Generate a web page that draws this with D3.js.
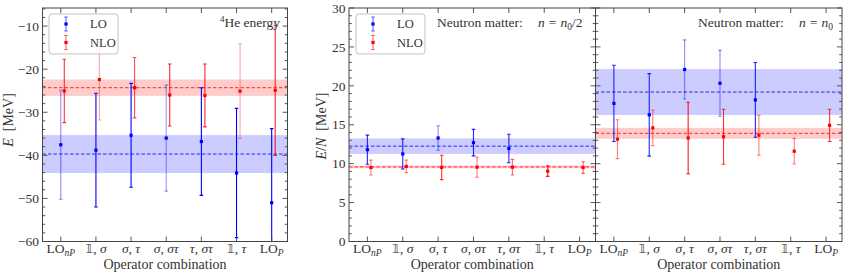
<!DOCTYPE html>
<html>
<head>
<meta charset="utf-8">
<script src="https://cdn.jsdelivr.net/npm/d3@7"></script>
<style>
  html, body { margin: 0; padding: 0; background: #fff; }
  svg { display: block; }
</style>
</head>
<body>
<svg id="chart" width="851" height="275"></svg>
<script>
// ---------- data ----------
const categories = ["LOnP", "1s", "st", "sst", "tst", "1t", "LOP"];
const tickLabels = [
  [["LO", ""], ["nP", "sub"]],
  [["𝟙", "bb"], [", ", ""], ["σ", "i"]],
  [["σ", "i"], [", ", ""], ["τ", "i"]],
  [["σ", "i"], [", ", ""], ["στ", "i"]],
  [["τ", "i"], [", ", ""], ["στ", "i"]],
  [["𝟙", "bb"], [", ", ""], ["τ", "i"]],
  [["LO", ""], ["P", "sub"]]
];

// 4He energy (MeV)
const heLO      = [-37.55, -38.8, -35.35, -36.0, -36.8, -44.1, -51.0];
const heLOErr   = [12.65, 13.2, 12.05, 12.3, 12.5, 15.0, 17.2];
const heNLO     = [-25.05, -22.4, -24.3, -26.0, -26.1, -25.1, -24.9];
const heNLOErr  = [7.35, 9.4, 7.0, 7.2, 7.3, 11.0, 15.1];
const heLOBand  = [-39.7, 4.4];
const heNLOBand = [-24.3, 1.9];

// Neutron matter n = n0/2 (MeV)
const nHalfLO      = [11.8, 11.25, 13.3, 12.7, 11.95, null, null];
const nHalfLOErr   = [1.87, 1.93, 1.58, 1.7, 1.83, null, null];
const nHalfNLO     = [9.5, 9.65, 9.52, 9.55, 9.55, 9.04, 9.5];
const nHalfNLOErr  = [0.95, 0.8, 1.57, 1.3, 1.0, 0.67, 0.75];
const nHalfLOBand  = [12.25, 1.0];
const nHalfNLOBand = [9.58, 0.18];

// Neutron matter n = n0 (MeV)
const nFullLO      = [17.74, 16.27, 22.1, 20.33, 18.19, null, null];
const nFullLOErr   = [4.9, 5.3, 3.8, 4.23, 4.8, null, null];
const nFullNLO     = [13.15, 14.6, 13.3, 13.46, 13.66, 11.6, 14.92];
const nFullNLOErr  = [2.5, 2.3, 4.6, 3.53, 2.57, 1.65, 2.08];
const nFullLOBand  = [19.2, 2.95];
const nFullNLOBand = [13.9, 0.7];

// error-bar weights (shown as bar opacity)
const heLOWeight     = [0.45, 1, 1, 0.4, 1, 1, 1];
const heNLOWeight    = [0.8, 0.35, 0.7, 0.85, 0.85, 0.35, 0.85];
const nHalfLOWeight  = [0.85, 0.85, 0.45, 0.85, 0.85, null, null];
const nHalfNLOWeight = [0.5, 0.5, 0.8, 0.5, 0.6, 0.9, 0.6];
const nFullLOWeight  = [0.85, 0.85, 0.45, 0.45, 0.85, null, null];
const nFullNLOWeight = [0.5, 0.5, 0.9, 0.8, 0.5, 0.5, 0.8];

const yTicksHe = [-60, -50, -40, -30, -20, -10];
const yTicksNM = [0, 5, 10, 15, 20, 25, 30];

// ---------- drawing ----------
const SERIF = "'Liberation Serif', 'DejaVu Serif', serif";
const svg = d3.select("#chart").attr("font-family", SERIF);
const BLUE = "#0000ff", RED = "#ff0000";
const TXT = "#333";
const plotTop = 8, plotBottom = 241.5;

function panel(opts) {
  const g = svg.append("g");
  const x = d3.scaleLinear().domain([-0.52, 6.45]).range([opts.x0, opts.x1]);
  const y = d3.scaleLinear().domain(opts.yDomain).range([plotBottom, plotTop]);
  const clipId = "clip" + opts.id;
  svg.append("clipPath").attr("id", clipId).append("rect")
    .attr("x", opts.x0).attr("y", plotTop).attr("width", opts.x1 - opts.x0).attr("height", plotBottom - plotTop);
  const plot = g.append("g").attr("clip-path", `url(#${clipId})`);

  // bands
  [[opts.loBand, BLUE], [opts.nloBand, RED]].forEach(([b, c]) => {
    plot.append("rect").attr("x", opts.x0).attr("width", opts.x1 - opts.x0)
      .attr("y", y(b[0] + b[1])).attr("height", y(b[0] - b[1]) - y(b[0] + b[1]))
      .attr("fill", c).attr("fill-opacity", 0.2);
    plot.append("line").attr("x1", opts.x0).attr("x2", opts.x1)
      .attr("y1", y(b[0])).attr("y2", y(b[0]))
      .attr("stroke", c).attr("stroke-opacity", 0.8).attr("stroke-width", 1)
      .attr("stroke-dasharray", "3.5,2");
  });

  // error bars
  function series(vals, errs, weights, color, off) {
    const data = categories.map((c, i) => ({ i, v: vals[i], e: errs[i], w: weights[i] }))
      .filter(d => d.v !== null);
    const s = plot.append("g");
    const eb = s.selectAll("g.eb").data(data).join("g").attr("class", "eb")
      .attr("stroke", color).attr("stroke-opacity", d => d.w).attr("stroke-width", 1.1);
    eb.append("line").attr("x1", d => x(d.i + off)).attr("x2", d => x(d.i + off))
      .attr("y1", d => y(d.v - d.e)).attr("y2", d => y(d.v + d.e));
    eb.append("line").attr("x1", d => x(d.i + off) - 1.8).attr("x2", d => x(d.i + off) + 1.8)
      .attr("y1", d => y(d.v + d.e)).attr("y2", d => y(d.v + d.e));
    eb.append("line").attr("x1", d => x(d.i + off) - 1.8).attr("x2", d => x(d.i + off) + 1.8)
      .attr("y1", d => y(d.v - d.e)).attr("y2", d => y(d.v - d.e));
    s.selectAll("rect").data(data).join("rect")
      .attr("x", d => x(d.i + off) - 1.6).attr("y", d => y(d.v) - 1.6)
      .attr("width", 3.2).attr("height", 3.2).attr("fill", color);
  }
  series(opts.lo, opts.loErr, opts.loW, BLUE, 0);
  series(opts.nlo, opts.nloErr, opts.nloW, RED, 0.1);

  // frame
  g.append("rect").attr("x", opts.x0).attr("y", plotTop)
    .attr("width", opts.x1 - opts.x0).attr("height", plotBottom - plotTop)
    .attr("fill", "none").attr("stroke", "#444").attr("stroke-width", 1);

  // ticks (inward, on all sides)
  const tk = g.append("g").attr("stroke", "#444").attr("stroke-width", 0.9);
  categories.forEach((c, i) => {
    tk.append("line").attr("x1", x(i)).attr("x2", x(i)).attr("y1", plotBottom).attr("y2", plotBottom - 5);
    tk.append("line").attr("x1", x(i)).attr("x2", x(i)).attr("y1", plotTop).attr("y2", plotTop + 5);
  });
  const [ymin, ymax] = opts.yDomain;
  d3.range(Math.ceil(ymin / opts.minor) * opts.minor, ymax + 1e-9, opts.minor).forEach(v => {
    const major = Math.abs(v / opts.major - Math.round(v / opts.major)) < 1e-6;
    const L = major ? 5 : 2.8;
    tk.append("line").attr("x1", opts.x0).attr("x2", opts.x0 + L).attr("y1", y(v)).attr("y2", y(v));
    tk.append("line").attr("x1", opts.x1).attr("x2", opts.x1 - L).attr("y1", y(v)).attr("y2", y(v));
  });

  // y tick labels
  if (opts.yLabels) {
    g.selectAll("text.yt").data(opts.yLabels).join("text").attr("class", "yt")
      .attr("x", opts.x0 - 3.5).attr("y", d => y(d)).attr("dy", "0.35em")
      .attr("text-anchor", "end").attr("font-size", 13.5).attr("fill", TXT)
      .text(d => d3.format("d")(d).replace("-", "− "));
  }

  // x tick labels
  categories.forEach((c, i) => {
    const t = g.append("text").attr("x", x(i)).attr("y", 253)
      .attr("text-anchor", "middle").attr("font-size", 13.5).attr("fill", TXT)
      .attr("xml:space", "preserve");
    tickLabels[i].forEach(([s, st]) => {
      const sp = t.append("tspan").text(s);
      if (st === "i") sp.attr("font-style", "italic");
      if (st === "bb") sp.attr("font-family", "DejaVu Sans").attr("font-size", 12.5);
      if (st === "sub") sp.attr("font-style", "italic").attr("font-size", 9.5).attr("baseline-shift", "-3");
    });
  });

  // x axis title
  g.append("text").attr("x", (opts.x0 + opts.x1) / 2).attr("y", 268.5)
    .attr("text-anchor", "middle").attr("font-size", 14).attr("fill", TXT).text("Operator combination");
  return { x, y, g };
}

function legend(x0, y0) {
  const g = svg.append("g");
  g.append("rect").attr("x", x0).attr("y", y0).attr("width", 69).attr("height", 40).attr("rx", 3)
    .attr("fill", "#fff").attr("fill-opacity", 0.8).attr("stroke", "#bbb").attr("stroke-width", 0.9);
  [["LO", BLUE, 10], ["NLO", RED, 28.5]].forEach(([lab, c, dy]) => {
    const mx = x0 + 17, my = y0 + dy;
    g.append("line").attr("x1", mx).attr("x2", mx).attr("y1", my - 7).attr("y2", my + 7)
      .attr("stroke", c).attr("stroke-opacity", 0.6).attr("stroke-width", 1.1);
    g.append("line").attr("x1", mx - 1.8).attr("x2", mx + 1.8).attr("y1", my - 7).attr("y2", my - 7)
      .attr("stroke", c).attr("stroke-opacity", 0.6);
    g.append("line").attr("x1", mx - 1.8).attr("x2", mx + 1.8).attr("y1", my + 7).attr("y2", my + 7)
      .attr("stroke", c).attr("stroke-opacity", 0.6);
    g.append("rect").attr("x", mx - 1.6).attr("y", my - 1.6).attr("width", 3.2).attr("height", 3.2).attr("fill", c);
    g.append("text").attr("x", x0 + 41).attr("y", my).attr("dy", "0.35em").attr("font-size", 12.5)
      .attr("fill", TXT).text(lab);
  });
}

function mathTitle(xWord, xMath, withHalf) {
  svg.append("text").attr("x", xWord).attr("y", 27).attr("font-size", 13.5).attr("fill", TXT)
    .text("Neutron matter:");
  const t = svg.append("text").attr("x", xMath).attr("y", 27).attr("font-size", 13.5).attr("fill", TXT);
  t.append("tspan").text("n").attr("font-style", "italic");
  t.append("tspan").text("=").attr("dx", 4);
  t.append("tspan").text("n").attr("font-style", "italic").attr("dx", 4);
  t.append("tspan").text("0").attr("font-size", 9.5).attr("baseline-shift", "-3");
  if (withHalf) t.append("tspan").text("/2").attr("baseline-shift", "0");
}

// Panel 1: 4He energy
panel({ id: 1, x0: 42.5, x1: 287.5, yDomain: [-60, -5.8], major: 10, minor: 2, yLabels: yTicksHe,
  lo: heLO, loErr: heLOErr, loW: heLOWeight, nlo: heNLO, nloErr: heNLOErr, nloW: heNLOWeight,
  loBand: heLOBand, nloBand: heNLOBand });
legend(49, 14);
{
  const t = svg.append("text").attr("x", 280).attr("y", 27).attr("text-anchor", "end")
    .attr("font-size", 13.5).attr("fill", TXT);
  t.append("tspan").text("4").attr("font-size", 9).attr("baseline-shift", "5");
  t.append("tspan").text("He energy");
  const yl = svg.append("text").attr("transform", "translate(13,120) rotate(-90)")
    .attr("text-anchor", "middle").attr("font-size", 14).attr("fill", TXT).attr("xml:space", "preserve");
  yl.append("tspan").text("E").attr("font-style", "italic");
  yl.append("tspan").text("  [MeV]");
}

// Panel 2: n = n0/2
panel({ id: 2, x0: 349, x1: 595.5, yDomain: [0, 30], major: 5, minor: 1, yLabels: yTicksNM,
  lo: nHalfLO, loErr: nHalfLOErr, loW: nHalfLOWeight, nlo: nHalfNLO, nloErr: nHalfNLOErr, nloW: nHalfNLOWeight,
  loBand: nHalfLOBand, nloBand: nHalfNLOBand });
legend(356, 14);
mathTitle(437, 538, true);
{
  const yl = svg.append("text").attr("transform", "translate(326,126) rotate(-90)")
    .attr("text-anchor", "middle").attr("font-size", 14).attr("fill", TXT).attr("xml:space", "preserve");
  yl.append("tspan").text("E").attr("font-style", "italic");
  yl.append("tspan").text("/");
  yl.append("tspan").text("N").attr("font-style", "italic");
  yl.append("tspan").text("  [MeV]");
}

// Panel 3: n = n0
panel({ id: 3, x0: 595.5, x1: 842, yDomain: [0, 30], major: 5, minor: 1, yLabels: null,
  lo: nFullLO, loErr: nFullLOErr, loW: nFullLOWeight, nlo: nFullNLO, nloErr: nFullNLOErr, nloW: nFullNLOWeight,
  loBand: nFullLOBand, nloBand: nFullNLOBand });
mathTitle(698, 799, false);
</script>
</body>
</html>
